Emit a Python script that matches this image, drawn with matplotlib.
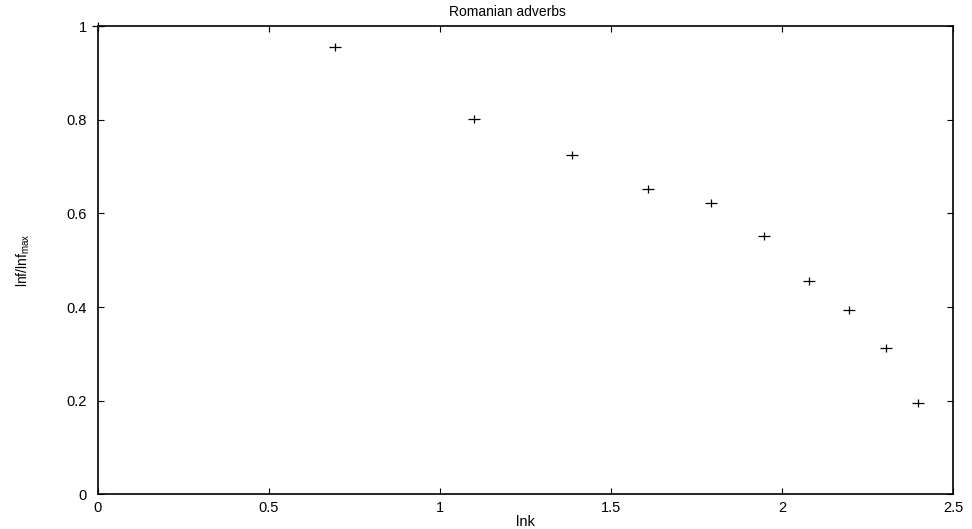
import matplotlib
matplotlib.use('Agg')
import matplotlib.pyplot as plt
from matplotlib.path import Path
import numpy as np

plt.rcParams['font.family'] = ['Liberation Sans', 'DejaVu Sans']

# ln k for k = 1..11 and normalised ln f
k = np.arange(1, 12)
lnk = np.log(k)
lnf_norm = [1.0, 0.955, 0.802, 0.725, 0.652, 0.622, 0.552, 0.456, 0.394, 0.313, 0.195]

xticks = [0, 0.5, 1, 1.5, 2, 2.5]
xtick_labels = ['0', '0.5', '1', '1.5', '2', '2.5']
yticks = [0, 0.2, 0.4, 0.6, 0.8, 1]
ytick_labels = ['0', '0.2', '0.4', '0.6', '0.8', '1']

# gnuplot-like plus, a bit wider than tall
plus = Path([(-1, 0), (1, 0), (0, -0.6), (0, 0.6)],
            [Path.MOVETO, Path.LINETO, Path.MOVETO, Path.LINETO])

fig = plt.figure(figsize=(9.72, 5.29), dpi=100)
ax = fig.add_axes([0.1008, 0.0656, 0.8797, 0.8847])

ax.plot(lnk, lnf_norm, linestyle='none', marker=plus, color='black',
        markersize=9, markeredgewidth=0.9, clip_on=False)

ax.set_xlim(0, 2.5)
ax.set_ylim(0, 1)
ax.set_xticks(xticks)
ax.set_xticklabels(xtick_labels)
ax.set_yticks(yticks)
ax.set_yticklabels(ytick_labels)
ax.tick_params(direction='in', length=4.5, width=0.8, labelsize=10.5,
               top=True, right=True)
ax.tick_params(axis='y', pad=8)
ax.tick_params(axis='x', pad=5)
for s in ax.spines.values():
    s.set_linewidth(1.2)

fig.text(507 / 972, 1 - 12 / 529, 'Romanian adverbs', fontsize=10,
         ha='center', va='center')
ax.set_xlabel('lnk', fontsize=10.5, labelpad=0)
ax.set_ylabel(r'lnf/lnf$_{\mathregular{max}}$', fontsize=10)
ax.yaxis.set_label_coords(-0.077, 0.5)

fig.savefig('out.png', dpi=100)
